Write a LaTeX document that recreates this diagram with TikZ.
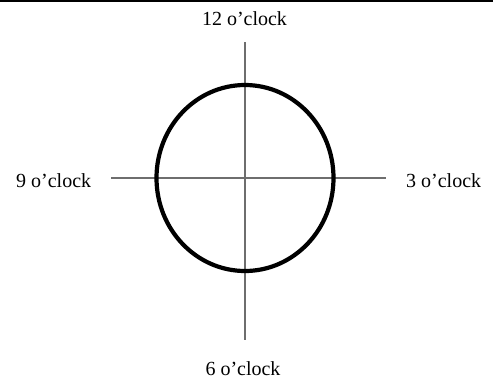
\documentclass[tikz,border=0pt]{standalone}
\usepackage{fontspec}
\setmainfont{Liberation Serif}
\usetikzlibrary{positioning}
\definecolor{caxis}{HTML}{6E6E6E}
\definecolor{cring}{HTML}{000000}

\begin{document}
\begin{tikzpicture}[x=1pt,y=-1pt]
  \useasboundingbox (0,0) rectangle (493,381);
  \coordinate (rl) at (0,1);
  \coordinate (rr) at (493,1);
  \draw[line width=2pt] (rl) -- (rr);
  \coordinate (c) at (245,178);
  \coordinate (at12) at (245,42);
  \coordinate (at6) at (245,340);
  \coordinate (at9) at (111,178);
  \coordinate (at3) at (386,178);
  \draw[caxis,line width=1.2pt] (at12) -- (at6);
  \draw[caxis,line width=1.2pt] (at9) -- (at3);
  \draw[cring,line width=4.2pt] (c) ellipse [x radius=88.5, y radius=93];
  \node[font=\fontsize{20}{23}\selectfont,inner sep=0pt,anchor=base] (h12) at (244.5,25) {12 o’clock};
  \node[font=\fontsize{20}{23}\selectfont,inner sep=0pt,anchor=base west] (h3) at (406,187) {3 o’clock};
  \node[font=\fontsize{20}{23}\selectfont,inner sep=0pt,anchor=base] (h6) at (243,375) {6 o’clock};
  \node[font=\fontsize{20}{23}\selectfont,inner sep=0pt,anchor=base west] (h9) at (16,187) {9 o’clock};
\end{tikzpicture}
\end{document}
